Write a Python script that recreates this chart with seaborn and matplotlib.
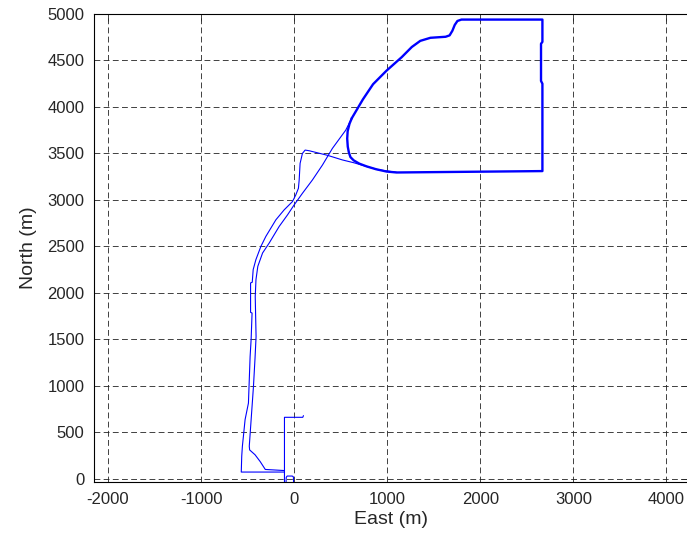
import numpy as np
import pandas as pd
import matplotlib
matplotlib.use('Agg')
import matplotlib.pyplot as plt
import seaborn as sns

sns.set_style('white')
plt.rcParams['font.family'] = ['Liberation Sans', 'DejaVu Sans']
plt.rcParams['axes.unicode_minus'] = False

# Track pieces (East, North in metres)
bump_east = [-5, -8, -20, -75, -85, -88]
bump_north = [-80, 20, 29, 29, 15, -80]

spur_east = [-104, -104, 93, 100]
spur_north = [-80, 661, 661, 679]

outer_east = [1100, 900, 760, 640, 518, 357, 161, 118, 89, 64, 54, 46, 18, -18, -107, -196,
              -304, -357, -411, -440, -450, -468, -468, -452, -462, -473, -491, -527,
              -545, -556, -563, -568, -115, -104]
outer_north = [3297, 3325, 3365, 3400, 3430, 3480, 3529, 3536, 3500, 3393, 3214, 3125, 3054,
               2982, 2893, 2786, 2607, 2500, 2357, 2250, 2114, 2107, 1790, 1783, 1500, 1314,
               814, 636, 457, 350, 243, 72, 72, 72]

inner_east = [-104, -170, -310, -365, -420, -478, -482, -462, -437, -420, -409, -418, -410,
              -390, -339, -268, -161, -71, 0, 89, 196, 304, 411, 554, 620]
inner_north = [88, 92, 100, 185, 258, 310, 350, 636, 993, 1300, 1529, 1960, 2143, 2286,
               2429, 2536, 2714, 2839, 2946, 3071, 3214, 3375, 3554, 3750, 3880]

loop_east = [620, 739, 848, 993, 1156, 1264, 1355, 1464, 1627, 1670, 1700, 1725, 1754, 1797,
             2667, 2667, 2652, 2652, 2667, 2667, 1100, 993, 880, 780, 700, 640, 605, 588,
             576, 570, 575, 595, 620]
loop_north = [3880, 4082, 4245, 4391, 4536, 4645, 4711, 4744, 4755, 4770, 4820, 4882, 4925,
              4940, 4940, 4700, 4680, 4280, 4250, 3310, 3295, 3305, 3330, 3360, 3390, 3425,
              3460, 3510, 3573, 3660, 3740, 3820, 3880]

thin = pd.concat([
    pd.DataFrame({'east': bump_east, 'north': bump_north, 'track': 'bump'}),
    pd.DataFrame({'east': spur_east, 'north': spur_north, 'track': 'spur'}),
    pd.DataFrame({'east': outer_east, 'north': outer_north, 'track': 'outer'}),
    pd.DataFrame({'east': inner_east, 'north': inner_north, 'track': 'inner'}),
], ignore_index=True)
loop = pd.DataFrame({'east': loop_east, 'north': loop_north, 'track': 'loop'})

fig = plt.figure(figsize=(6.87, 5.42), dpi=100)
ax = fig.add_axes([94 / 687, 1 - 482 / 542, 1 - 94 / 687 + 0.002, (482 - 14) / 542])

sns.lineplot(data=thin, x='east', y='north', units='track', estimator=None, sort=False,
             color='blue', lw=0.8, ax=ax)
sns.lineplot(data=loop, x='east', y='north', estimator=None, sort=False,
             color='blue', lw=1.7, ax=ax)

ax.set_xlim(-2150, 4235)
ax.set_ylim(-35, 5000)
ax.set_xticks(np.arange(-2000, 4001, 1000))
ax.set_yticks(np.arange(0, 5001, 500))
ax.grid(True, color='#222222', lw=0.6, linestyle=(0, (7, 4)))
ax.tick_params(direction='in', length=5, width=0.6, top=True, right=True,
               labelsize=12, pad=7)
for s in ax.spines.values():
    s.set_linewidth(0.8)
    s.set_color('black')
ax.set_xlabel('East (m)', fontsize=14, labelpad=3)
ax.set_ylabel('North (m)', fontsize=14, labelpad=7)

fig.savefig('out.png', dpi=100)
